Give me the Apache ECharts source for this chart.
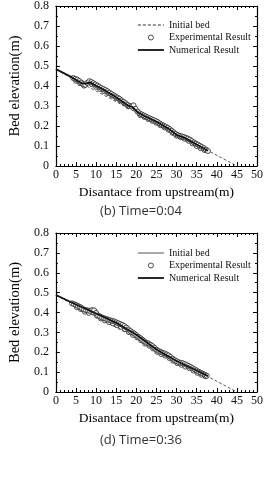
<!DOCTYPE html>
<html>
<head>
<meta charset="utf-8">
<script src="https://cdn.jsdelivr.net/npm/echarts@6/dist/echarts.min.js"></script>
<style>
  html, body {margin: 0; padding: 0; background: #fff;}
  #chart {width: 266px; height: 499px;}
</style>
</head>
<body>
<div id="chart"></div>
<script>
// (b) Time=0:04
const initialBed1 = [[0, 0.482], [45, 0]];
const expX1 = [4.3, 4.8, 5.3, 5.8, 6.3, 6.8, 7.3, 7.8, 8.3, 8.8, 9.3, 9.8, 10.3, 10.8, 11.3, 11.8, 12.3, 12.8, 13.3, 13.8,
  14.3, 14.8, 15.3, 15.8, 16.3, 16.8, 17.3, 17.8, 18.3, 18.8, 19.3, 19.8, 20.3, 20.8, 21.3, 21.8, 22.3, 22.8, 23.3, 23.8,
  24.3, 24.8, 25.3, 25.8, 26.3, 26.8, 27.3, 27.8, 28.3, 28.8, 29.3, 29.8, 30.3, 30.8, 31.3, 31.8, 32.3, 32.8, 33.3, 33.8,
  34.3, 34.8, 35.3, 35.8, 36.3, 36.8, 37.3, 37.8];
const expY1 = [0.440, 0.436, 0.432, 0.425, 0.417, 0.410, 0.406, 0.416, 0.424, 0.420, 0.414, 0.408, 0.402, 0.396, 0.390, 0.385, 0.380, 0.374, 0.367, 0.360,
  0.354, 0.348, 0.342, 0.336, 0.328, 0.321, 0.314, 0.306, 0.300, 0.298, 0.303, 0.286, 0.272, 0.263, 0.258, 0.253, 0.248, 0.243, 0.238, 0.234,
  0.230, 0.225, 0.220, 0.213, 0.207, 0.202, 0.197, 0.191, 0.184, 0.176, 0.168, 0.160, 0.155, 0.151, 0.148, 0.145, 0.141, 0.137, 0.132, 0.125,
  0.118, 0.112, 0.107, 0.101, 0.095, 0.089, 0.082, 0.075];
// lower row of the measured band
const expX1b = [5.0, 6.0, 7.0, 9.0, 10.0, 11.0, 12.0, 13.0, 14.0, 15.0, 16.0, 17.0, 18.0, 21.0, 22.0, 23.0, 24.0, 25.0, 26.0, 27.0,
  28.0, 29.0, 30.0, 31.0, 32.0, 33.0, 34.0, 35.0, 36.0, 37.0];
const expY1b = [0.426, 0.414, 0.402, 0.408, 0.396, 0.385, 0.374, 0.364, 0.352, 0.340, 0.328, 0.314, 0.298, 0.254, 0.245, 0.235, 0.226, 0.216, 0.204, 0.193,
  0.181, 0.166, 0.152, 0.144, 0.136, 0.126, 0.113, 0.100, 0.089, 0.079];
const numX1 = [0, 4, 6.5, 7.5, 8.5, 10, 12, 15, 18, 19, 20.5, 22, 25, 28, 30, 32, 34, 36, 37.8];
const numY1 = [0.485, 0.443, 0.413, 0.412, 0.418, 0.401, 0.380, 0.344, 0.301, 0.296, 0.266, 0.250, 0.221, 0.187, 0.156, 0.141, 0.119, 0.096, 0.076];

// (d) Time=0:36
const initialBed2 = [[0, 0.487], [45, 0]];
const expX2 = [4.0, 4.5, 5.0, 5.5, 6.0, 6.5, 7.0, 7.5, 8.0, 8.5, 9.0, 9.5, 10.0, 10.5, 11.0, 11.5, 12.0, 12.5, 13.0, 13.5,
  14.0, 14.5, 15.0, 15.5, 16.0, 16.5, 17.0, 17.5, 18.0, 18.5, 19.0, 19.5, 20.0, 20.5, 21.0, 21.5, 22.0, 22.5, 23.0, 23.5,
  24.0, 24.5, 25.0, 25.5, 26.0, 26.5, 27.0, 27.5, 28.0, 28.5, 29.0, 29.5, 30.0, 30.5, 31.0, 31.5, 32.0, 32.5, 33.0, 33.5,
  34.0, 34.5, 35.0, 35.5, 36.0, 36.5, 37.0, 37.5];
const expY2 = [0.446, 0.442, 0.438, 0.433, 0.428, 0.421, 0.415, 0.412, 0.410, 0.408, 0.412, 0.411, 0.398, 0.385, 0.379, 0.375, 0.371, 0.368, 0.364, 0.361,
  0.358, 0.355, 0.350, 0.346, 0.342, 0.338, 0.332, 0.324, 0.315, 0.307, 0.300, 0.294, 0.286, 0.278, 0.271, 0.263, 0.255, 0.248, 0.244, 0.238,
  0.231, 0.222, 0.213, 0.207, 0.202, 0.198, 0.194, 0.189, 0.184, 0.176, 0.168, 0.161, 0.155, 0.150, 0.147, 0.145, 0.141, 0.136, 0.131, 0.126,
  0.120, 0.114, 0.108, 0.102, 0.097, 0.092, 0.087, 0.082];
const expX2b = [5.2, 6.2, 7.2, 8.2, 9.2, 10.2, 11.2, 12.2, 13.2, 14.2, 15.2, 16.2, 17.2, 18.2, 19.2, 20.2, 21.2, 22.2, 23.2, 24.2,
  25.2, 26.2, 27.2, 28.2, 29.2, 30.2, 31.2, 32.2, 33.2, 34.2, 35.2, 36.2, 37.2];
const expY2b = [0.427, 0.417, 0.404, 0.398, 0.402, 0.384, 0.370, 0.360, 0.352, 0.345, 0.337, 0.328, 0.316, 0.301, 0.287, 0.275, 0.260, 0.244, 0.233, 0.219,
  0.202, 0.191, 0.183, 0.171, 0.157, 0.145, 0.137, 0.128, 0.120, 0.108, 0.096, 0.087, 0.079];
const numX2 = [0, 5, 10, 15, 20, 25, 30, 35, 37.8];
const numY2 = [0.488, 0.440, 0.395, 0.348, 0.288, 0.214, 0.156, 0.108, 0.080];

const xTicks = {min: 0, max: 50, interval: 5};
const yTicks = {min: 0, max: 0.8, interval: 0.1};
const captions = ["(b) Time=0:04", "(d) Time=0:36"];

const SERIF = "Liberation Serif";
const zip = (xs, ys) => xs.map((x, i) => [x, ys[i]]);

const grids = [
  {left: 39, right: 8, top: 6, height: 160},
  {left: 41, right: 8, top: 233, height: 159},
];

function makeAxes(gi) {
  const tickStyle = {color: "#000", width: 1};
  const frame = {color: "#000", width: 1.2};
  const x = [
    {
      type: "value", gridIndex: gi, ...xTicks,
      name: "Disantace from upstream(m)", nameLocation: "middle", nameGap: 19,
      nameTextStyle: {fontFamily: SERIF, fontSize: 13.5, color: "#000"},
      axisLine: {lineStyle: frame},
      axisTick: {inside: true, length: 4, lineStyle: tickStyle},
      minorTick: {show: true, splitNumber: 5, length: 2, lineStyle: tickStyle},
      axisLabel: {fontFamily: SERIF, fontSize: 12, color: "#111", margin: 3},
      splitLine: {show: false},
    },
    {
      type: "value", gridIndex: gi, position: "top", ...xTicks,
      axisLine: {show: true, onZero: false, lineStyle: frame},
      axisTick: {inside: true, length: 4, lineStyle: tickStyle},
      minorTick: {show: true, splitNumber: 5, length: 2, lineStyle: tickStyle},
      axisLabel: {show: false},
      splitLine: {show: false},
    },
  ];
  const y = [
    {
      type: "value", gridIndex: gi, ...yTicks,
      name: "Bed elevation(m)", nameLocation: "middle", nameGap: 24,
      nameTextStyle: {fontFamily: SERIF, fontSize: 14.5, color: "#000"},
      axisLine: {show: true, onZero: false, lineStyle: frame},
      axisTick: {show: true, inside: true, length: 4, lineStyle: tickStyle},
      minorTick: {show: true, splitNumber: 2, length: 2, lineStyle: tickStyle},
      axisLabel: {fontFamily: SERIF, fontSize: 12, color: "#111", margin: 7},
      splitLine: {show: false},
    },
    {
      type: "value", gridIndex: gi, position: "right", ...yTicks,
      axisLine: {show: true, onZero: false, lineStyle: frame},
      axisTick: {show: true, inside: true, length: 4, lineStyle: tickStyle},
      minorTick: {show: true, splitNumber: 2, length: 2, lineStyle: tickStyle},
      axisLabel: {show: false},
      splitLine: {show: false},
    },
  ];
  return {x, y};
}

const a1 = makeAxes(0);
const a2 = makeAxes(1);

const circleStyle = {color: "#fff", borderColor: "#222", borderWidth: 1};

function makeSeries(gi, bed, ex, ey, exb, eyb, nx, ny) {
  const ax = {xAxisIndex: gi * 2, yAxisIndex: gi * 2};
  return [
    {
      name: "Initial bed", type: "line", ...ax,
      data: bed, symbol: "none", z: 2,
      itemStyle: {color: "#333"},
      lineStyle: {color: "#333", width: 0.8, type: [3, 2]},
    },
    {
      name: "Experimental Result", type: "scatter", ...ax,
      data: zip(exb, eyb), symbol: "circle", symbolSize: 5, z: 3,
      itemStyle: circleStyle,
    },
    {
      name: "Experimental Result", type: "scatter", ...ax,
      data: zip(ex, ey), symbol: "circle", symbolSize: 5, z: 3,
      itemStyle: circleStyle,
    },
    {
      name: "Numerical Result", type: "line", ...ax,
      data: zip(nx, ny), symbol: "none", z: 4,
      itemStyle: {color: "#111"},
      lineStyle: {color: "#111", width: 1.8},
    },
  ];
}

function makeLegend(top, bedSolid) {
  return {
    orient: "vertical", left: 137, top: top, padding: 0,
    itemWidth: 26, itemHeight: 5, itemGap: 2.5,
    selectedMode: false,
    textStyle: {fontFamily: SERIF, fontSize: 10, color: "#111"},
    data: [
      {name: "Initial bed", itemStyle: {opacity: 0},
        lineStyle: bedSolid ? {type: "solid", width: 1, color: "#555"} : {type: [3, 2], width: 1, color: "#333"}},
      {name: "Experimental Result", icon: "circle", itemStyle: circleStyle},
      {name: "Numerical Result", itemStyle: {opacity: 0}, lineStyle: {width: 1.8, color: "#111"}},
    ],
  };
}

const chart = echarts.init(document.getElementById("chart"), null, {renderer: "canvas"});

chart.setOption({
  animation: false,
  backgroundColor: "#fff",
  grid: grids,
  xAxis: [...a1.x, ...a2.x],
  yAxis: [...a1.y, ...a2.y],
  legend: [makeLegend(20, false), makeLegend(248, true)],
  series: [
    ...makeSeries(0, initialBed1, expX1, expY1, expX1b, expY1b, numX1, numY1),
    ...makeSeries(1, initialBed2, expX2, expY2, expX2b, expY2b, numX2, numY2),
  ],
  graphic: [
    {type: "text", x: 100, y: 205,
      style: {text: captions[0], font: "13px 'Open Sans'", fill: "#333"}},
    {type: "text", x: 100, y: 434,
      style: {text: captions[1], font: "13px 'Open Sans'", fill: "#333"}},
  ],
});
</script>
</body>
</html>
